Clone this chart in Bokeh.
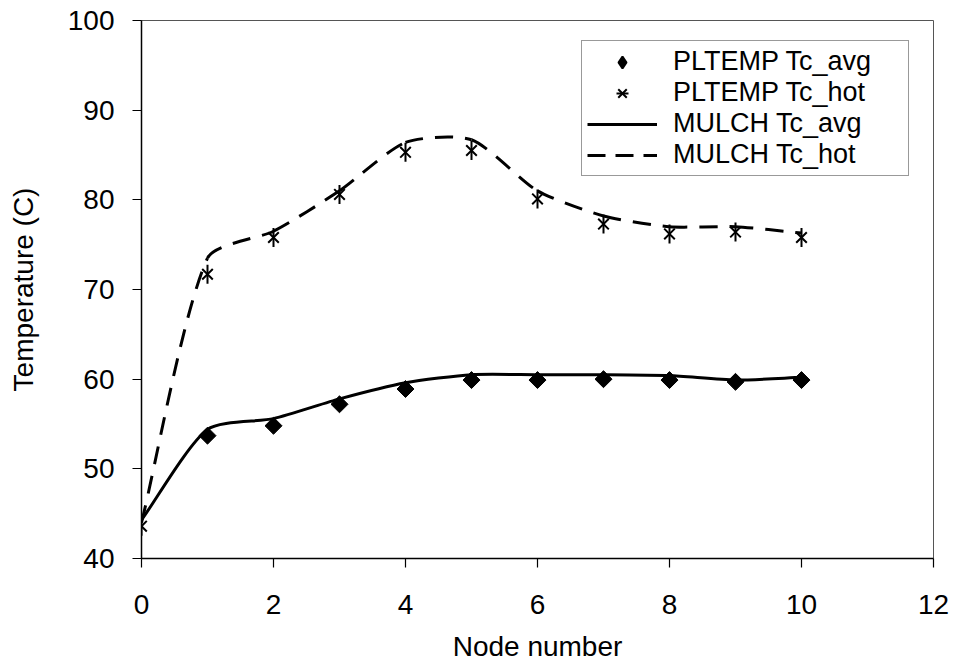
import numpy as np
from bokeh.plotting import figure
from bokeh.models import Range1d, Legend, LegendItem, FixedTicker, ColumnDataSource
from bokeh.embed import file_html
from bokeh.resources import INLINE

# ---- data ----
nodes = [0, 1, 2, 3, 4, 5, 6, 7, 8, 9, 10]
pltemp_avg_nodes = [1, 2, 3, 4, 5, 6, 7, 8, 9, 10]
pltemp_avg = [53.7, 54.8, 57.2, 58.9, 59.9, 59.9, 60.0, 59.9, 59.7, 59.9]
pltemp_hot = [43.6, 71.7, 75.8, 80.6, 85.3, 85.5, 80.1, 77.3, 76.2, 76.4, 75.8]
mulch_avg = [44.3, 54.4, 55.6, 57.8, 59.6, 60.5, 60.5, 60.5, 60.4, 59.9, 60.2]
mulch_hot = [44.0, 73.5, 76.5, 81.0, 86.4, 86.7, 81.0, 78.2, 77.0, 77.0, 76.3]
x_ticks = [0, 2, 4, 6, 8, 10, 12]
y_ticks = [40, 50, 60, 70, 80, 90, 100]

FONT = "Liberation Sans"
# pixel size of one data unit on each axis (used only to shape the smoothing)
PX_X = 792 / 12.0
PX_Y = 539 / 60.0
HANDLE = 0.22  # bezier handle length as a fraction of segment length


def smooth_source(xs, ys):
    """Bezier control points for a smoothed line (tangent along neighbours,
    handle length proportional to the segment length, in screen proportions)."""
    X = np.asarray(xs, float) * PX_X
    Y = np.asarray(ys, float) * PX_Y
    n = len(X)
    tx = np.empty(n)
    ty = np.empty(n)
    for k in range(n):
        a = max(k - 1, 0)
        b = min(k + 1, n - 1)
        dx, dy = X[b] - X[a], Y[b] - Y[a]
        d = np.hypot(dx, dy)
        tx[k], ty[k] = dx / d, dy / d
    i = np.arange(n - 1)
    L = np.hypot(X[i + 1] - X[i], Y[i + 1] - Y[i]) * HANDLE
    cx0 = (X[i] + tx[i] * L) / PX_X
    cy0 = (Y[i] + ty[i] * L) / PX_Y
    cx1 = (X[i + 1] - tx[i + 1] * L) / PX_X
    cy1 = (Y[i + 1] - ty[i + 1] * L) / PX_Y
    xs = np.asarray(xs, float)
    ys = np.asarray(ys, float)
    return ColumnDataSource(dict(x0=xs[:-1], y0=ys[:-1], x1=xs[1:], y1=ys[1:],
                                 cx0=cx0, cy0=cy0, cx1=cx1, cy1=cy1))


p = figure(width=955, height=664, x_range=Range1d(0, 12), y_range=Range1d(40, 100),
           output_backend="svg", toolbar_location=None,
           min_border_left=141, min_border_right=22, min_border_top=20, min_border_bottom=105,
           background_fill_color="white", border_fill_color="white")

p.xgrid.visible = False
p.ygrid.visible = False
p.outline_line_color = "#555555"
p.outline_line_width = 1

for ax in (p.xaxis[0], p.yaxis[0]):
    ax.axis_line_color = "black"
    ax.axis_line_width = 1.5
    ax.major_tick_in = 0
    ax.major_tick_out = 9
    ax.major_tick_line_color = "black"
    ax.major_tick_line_width = 1.2
    ax.minor_tick_line_color = None
    ax.major_label_text_font = FONT
    ax.major_label_text_font_size = "28px"
    ax.major_label_text_color = "black"
    ax.axis_label_text_font = FONT
    ax.axis_label_text_font_size = "28px"
    ax.axis_label_text_font_style = "normal"
    ax.axis_label_text_color = "black"

p.xaxis.ticker = FixedTicker(ticks=x_ticks)
p.yaxis.ticker = FixedTicker(ticks=y_ticks)
p.xaxis.axis_label = "Node number"
p.yaxis.axis_label = "Temperature (C)"
p.xaxis.major_label_standoff = 27
p.yaxis.major_label_standoff = 18
p.xaxis.axis_label_standoff = 14
p.yaxis.axis_label_standoff = 26

# smoothed MULCH curves
src_avg = smooth_source(nodes, mulch_avg)
src_hot = smooth_source(nodes, mulch_hot)
p.bezier(x0="x0", y0="y0", x1="x1", y1="y1", cx0="cx0", cy0="cy0", cx1="cx1", cy1="cy1",
         source=src_avg, line_color="black", line_width=3)
p.bezier(x0="x0", y0="y0", x1="x1", y1="y1", cx0="cx0", cy0="cy0", cx1="cx1", cy1="cy1",
         source=src_hot, line_color="black", line_width=3, line_dash="18 12")

# hidden renderers that only supply the legend samples
leg_avg = p.line(nodes, mulch_avg, line_color="black", line_width=3, visible=False)
leg_hot = p.line(nodes, mulch_hot, line_color="black", line_width=3, line_dash="18 10",
                 visible=False)
leg_dia = p.scatter(pltemp_avg_nodes, pltemp_avg, marker="diamond", size=16,
                    fill_color="black", line_color="black", line_width=2, visible=False)

# PLTEMP markers
r_dia = p.scatter(pltemp_avg_nodes, pltemp_avg, marker="square", angle=np.pi / 4, size=12,
                  fill_color="black", line_color="black")
r_x = p.scatter(nodes, pltemp_hot, marker="x", size=15, line_color="black", line_width=2)
r_v = p.scatter(nodes, pltemp_hot, marker="dash", angle=np.pi / 2, size=19,
                line_color="black", line_width=2)

legend = Legend(items=[
    LegendItem(label="PLTEMP Tc_avg", renderers=[leg_dia]),
    LegendItem(label="PLTEMP Tc_hot", renderers=[r_x, r_v]),
    LegendItem(label="MULCH Tc_avg", renderers=[leg_avg]),
    LegendItem(label="MULCH Tc_hot", renderers=[leg_hot]),
], location=(440, 382))
legend.label_text_font = FONT
legend.label_text_font_size = "27px"
legend.label_text_line_height = 1.0
legend.label_text_color = "black"
legend.border_line_color = "#333333"
legend.border_line_width = 1
legend.background_fill_color = "white"
legend.background_fill_alpha = 1
legend.padding = 5
legend.margin = 0
legend.spacing = 0
legend.glyph_width = 70
legend.glyph_height = 30
legend.label_height = 30
legend.label_width = 230
legend.label_standoff = 16
p.add_layout(legend, "center")

open("out.html", "w").write(file_html(p, INLINE))
